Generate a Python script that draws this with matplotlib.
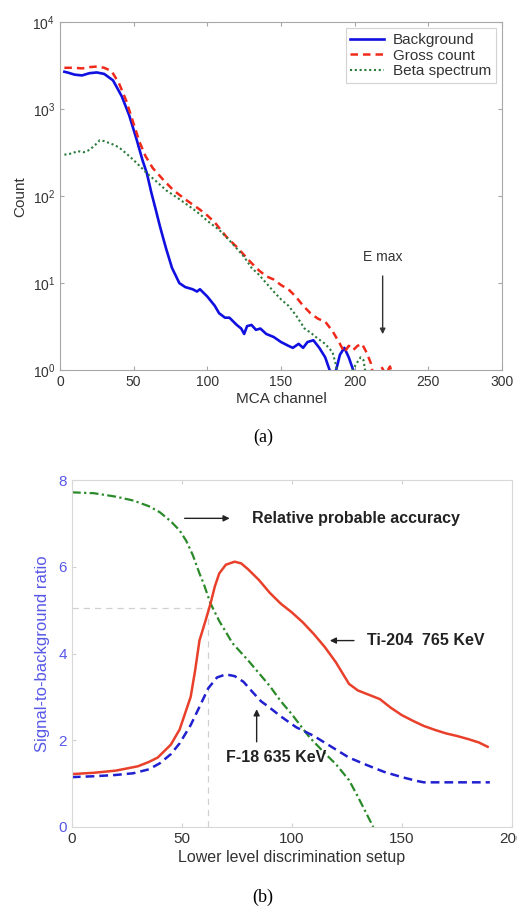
import matplotlib.pyplot as plt

plt.rcParams['font.family'] = ['Liberation Sans', 'DejaVu Sans']

# (a) MCA spectra
bg_ch = [3, 5, 10, 15, 20, 25, 30, 36, 42, 47, 52, 56, 59, 62, 65, 68, 72, 76, 81, 85,
         90, 93, 95, 100, 105, 108, 112, 115, 120, 123, 125, 127, 130, 133, 136, 140,
         145, 150, 155, 158, 162, 165, 168, 172, 176, 180, 183, 186, 190, 193, 196, 199, 201]
bg_cnt = [2700, 2650, 2500, 2450, 2600, 2650, 2550, 2150, 1400, 850, 450, 260, 183, 110, 70,
          44, 25, 15, 10, 9, 8.5, 8, 8.5, 7, 5.5, 4.5, 4.0, 4.0, 3.3, 3.0, 2.6, 3.2,
          3.3, 2.9, 3.0, 2.6, 2.4, 2.1, 1.9, 1.8, 2.0, 1.8, 2.1, 2.2, 1.8, 1.4, 1.0, 0.8,
          1.5, 1.8, 1.4, 1.0, 0.8]

gross_ch = [3, 10, 15, 20, 25, 30, 35, 40, 45, 50, 54, 58, 63, 70, 77, 85, 95, 100, 105,
            113, 120, 125, 130, 135, 140, 145, 150, 155, 160, 165, 170,
            175, 180, 185, 190, 193, 196, 199, 202, 205, 208, 211, 213, 216, 218, 221, 224, 226]
gross_cnt = [3000, 3000, 2950, 3050, 3100, 3000, 2750, 2000, 1250, 680, 420, 290, 210, 155,
             117, 92, 70, 60, 50, 34, 26, 21, 17, 14, 12, 11, 9.5,
             8.5, 7, 5.5, 4.5, 3.9, 3.6, 2.8, 2.0, 1.6, 1.9, 1.7, 1.9, 2.0, 1.6, 1.2, 0.8,
             0.9, 1.1, 0.9, 1.1, 0.8]

beta_ch = [3, 8, 12, 16, 20, 24, 27, 30, 35, 40, 45, 50, 55, 59, 65, 72, 80, 90,
           95, 100, 108, 115, 120, 125, 130, 135, 140, 145, 150, 155, 160, 163, 166,
           170, 175, 180, 185, 187, 189, 193, 197, 200, 204, 206, 208]
beta_cnt = [300, 310, 330, 320, 340, 390, 440, 430, 400, 365, 310, 260, 215, 183, 150, 117,
            95, 72, 62, 52, 41, 31, 25, 20, 15, 12.5, 10, 8, 6.5, 5.5, 4.3,
            3.6, 3.0, 2.7, 2.3, 2.0, 1.6, 1.2, 0.8, 0.9, 0.9, 1.1, 1.4, 1.3, 0.8]

# (b) discrimination setup
ti_x = [0, 10, 20, 30, 35, 39, 45, 49, 52, 54, 56, 58, 61, 63, 65, 67, 70, 74, 77, 80, 85,
        90, 95, 100, 105, 110, 115, 120, 126, 130, 135, 140, 145, 150, 155, 160, 165, 170,
        175, 180, 185, 189]
ti_y = [1.22, 1.25, 1.3, 1.4, 1.5, 1.6, 1.9, 2.25, 2.7, 3.0, 3.6, 4.3, 4.8, 5.15, 5.55,
        5.85, 6.05, 6.12, 6.08, 5.95, 5.7, 5.4, 5.15, 4.95, 4.72, 4.45, 4.15, 3.8, 3.3,
        3.15, 3.05, 2.95, 2.75, 2.58, 2.45, 2.33, 2.24, 2.16, 2.1, 2.03, 1.95, 1.85]

f18_x = [0, 10, 20, 28, 35, 40, 45, 49, 54, 58, 62, 66, 70, 74, 78, 82, 86, 90, 95, 102,
         110, 118, 126, 134, 142, 150, 157, 160, 170, 180, 190]
f18_y = [1.15, 1.17, 1.2, 1.24, 1.33, 1.47, 1.68, 1.93, 2.35, 2.77, 3.2, 3.45, 3.52, 3.48,
         3.35, 3.12, 2.9, 2.75, 2.55, 2.3, 2.1, 1.85, 1.6, 1.43, 1.27, 1.15, 1.06, 1.03,
         1.03, 1.03, 1.03]

acc_x = [0, 10, 20, 28, 35, 40, 45, 49, 52, 55, 58, 60, 63, 67, 70, 73, 80, 85, 90, 95,
         100, 108, 115, 120, 126, 130, 134, 137]
acc_y = [7.72, 7.7, 7.62, 7.53, 7.4, 7.26, 7.05, 6.84, 6.6, 6.27, 5.85, 5.6, 5.16, 4.75,
         4.5, 4.24, 3.85, 3.55, 3.25, 2.9, 2.6, 2.07, 1.7, 1.45, 1.08, 0.7, 0.3, 0.0]

fig = plt.figure(figsize=(5.17, 9.15), dpi=100)

grey = '#a8a8a8'
txt = '#333333'

# ---- top panel
ax1 = fig.add_axes([0.116, 0.5956, 0.855, 0.380])
ax1.plot(bg_ch, bg_cnt, color='#1010e0', lw=1.9, label='Background')
ax1.plot(gross_ch, gross_cnt, color='#f02a1a', lw=1.8, ls=(0, (3, 2)), label='Gross count')
ax1.plot(beta_ch, beta_cnt, color='#2a7a3a', lw=1.5, ls=(0, (1, 1.3)), label='Beta spectrum')
ax1.set_yscale('log')
ax1.set_xlim(0, 300)
ax1.set_ylim(1, 1e4)
ax1.set_xticks([0, 50, 100, 150, 200, 250, 300])
ax1.minorticks_off()
ax1.set_xlabel('MCA channel', fontsize=11, color=txt, labelpad=2)
ax1.set_ylabel('Count', fontsize=11, color=txt, labelpad=4)
ax1.tick_params(direction='in', top=True, right=True, labelsize=10, colors=grey,
                labelcolor=txt, length=3)
for s in ax1.spines.values():
    s.set_color(grey)
    s.set_linewidth(0.8)
leg = ax1.legend(loc='upper right', fontsize=11, frameon=True, fancybox=False,
                 handlelength=2.2, borderpad=0.3, labelspacing=0.1, borderaxespad=0.4,
                 handletextpad=0.6)
leg.get_frame().set_edgecolor('#c8c8c8')
leg.get_frame().set_linewidth(0.8)
for t in leg.get_texts():
    t.set_color(txt)
ax1.annotate('', xy=(219, 2.4), xytext=(219, 13),
             arrowprops=dict(arrowstyle='-|>', color='#333333', lw=1, mutation_scale=8))
ax1.text(219, 20, 'E max', ha='center', va='center', fontsize=10, color=txt)
fig.text(263 / 517, 1 - 437 / 915, '(a)', ha='center', va='center', fontsize=13,
         family='Liberation Serif')

# ---- bottom panel
ax2 = fig.add_axes([0.139, 0.0962, 0.851, 0.379])
ax2.plot([0, 62], [5.05, 5.05], color='#d0d0d0', lw=0.9, ls=(0, (5, 4)))
ax2.plot([62, 62], [0, 5.05], color='#d0d0d0', lw=0.9, ls=(0, (5, 4)))
ax2.plot(acc_x, acc_y, color='#2a8a2a', lw=1.6, ls=(0, (4, 1.5, 1, 1.5)))
ax2.plot(ti_x, ti_y, color='#e8402a', lw=1.8)
ax2.plot(f18_x, f18_y, color='#2020d0', lw=1.8, ls=(0, (3.5, 2)))
ax2.set_xlim(0, 200)
ax2.set_ylim(0, 8)
ax2.set_xticks([0, 50, 100, 150, 200])
ax2.set_yticks([0, 2, 4, 6, 8])
blue_lab = '#5858e8'
ax2.set_xlabel('Lower level discrimination setup', fontsize=11.5, color=txt, labelpad=3)
ax2.set_ylabel('Signal-to-background ratio', fontsize=12, color=blue_lab, labelpad=6)
ax2.tick_params(direction='in', top=True, labelsize=11, colors='#d0d0d0',
                labelcolor=txt, length=3)
ax2.tick_params(axis='y', labelcolor=blue_lab)
for s in ax2.spines.values():
    s.set_color('#d8d8d8')
    s.set_linewidth(0.8)

bold = dict(fontsize=11.5, fontweight='bold', color='#222222', va='center')
ax2.annotate('', xy=(73, 7.12), xytext=(50, 7.12),
             arrowprops=dict(arrowstyle='-|>', color='#222222', lw=1, mutation_scale=9))
ax2.text(82, 7.12, 'Relative probable accuracy', ha='left', **bold)
ax2.annotate('', xy=(116, 4.3), xytext=(129.5, 4.3),
             arrowprops=dict(arrowstyle='-|>', color='#222222', lw=1, mutation_scale=9))
ax2.text(134, 4.3, 'Ti-204  765 KeV', ha='left', **bold)
ax2.annotate('', xy=(84, 2.78), xytext=(84, 1.9),
             arrowprops=dict(arrowstyle='-|>', color='#222222', lw=1, mutation_scale=9))
ax2.text(70, 1.6, 'F-18 635 KeV', ha='left', **bold)
fig.text(263 / 517, 1 - 897 / 915, '(b)', ha='center', va='center', fontsize=13,
         family='Liberation Serif')

fig.savefig('out.png', dpi=100)
